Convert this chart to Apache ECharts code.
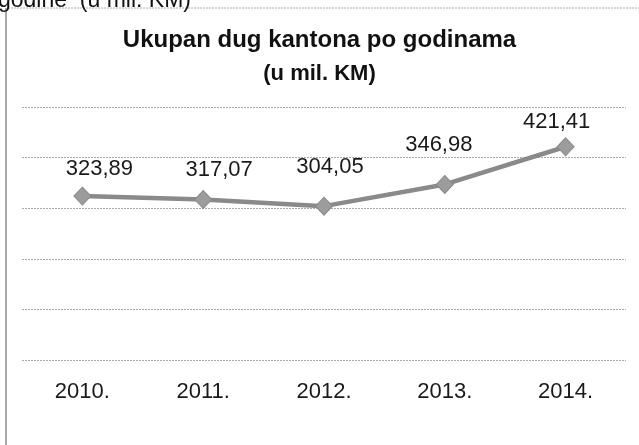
<!DOCTYPE html>
<html>
<head>
<meta charset="utf-8">
<script src="https://cdn.jsdelivr.net/npm/echarts@6/dist/echarts.min.js"></script>
<style>
  html, body { margin: 0; padding: 0; background: #fff; }
  #chart { width: 639px; height: 445px; }
</style>
</head>
<body>
<div id="chart"></div>
<script>
const years = ['2010.', '2011.', '2012.', '2013.', '2014.']
const debt = [323.89, 317.07, 304.05, 346.98, 421.41]
const yTicks = [0, 100, 200, 300, 400, 500]
// labels were moved by hand in the original, so nudge them a bit
const labelNudge = [[17, -27], [16, -30], [6, -39], [-6, -39], [-9, -25]]

const chart = echarts.init(document.getElementById('chart'))

const fmt = v => v.toFixed(2).replace('.', ',')

const option = {
  backgroundColor: '#fff',
  animation: false,
  title: {
    text: 'Ukupan dug kantona po godinama',
    subtext: '(u mil. KM)',
    left: 'center',
    top: 23,
    itemGap: 11,
    textStyle: {
      fontFamily: 'Liberation Sans',
      fontWeight: 'bold',
      fontSize: 24,
      color: '#111'
    },
    subtextStyle: {
      fontFamily: 'Liberation Sans',
      fontWeight: 'bold',
      fontSize: 22,
      color: '#111'
    }
  },
  graphic: [
    {
      type: 'line',
      shape: { x1: 8, y1: 8, x2: 639, y2: 8 },
      style: { stroke: '#b0b0b0', lineWidth: 1, lineDash: [2, 1] }
    },
    {
      type: 'line',
      shape: { x1: 6, y1: 8, x2: 6, y2: 445 },
      style: { stroke: '#a8a8a8', lineWidth: 2 }
    },
    {
      type: 'text',
      left: -2,
      top: -11,
      style: {
        text: 'godine  (u mil. KM)',
        font: '23px Liberation Sans',
        fill: '#111'
      }
    }
  ],
  grid: {
    left: 22,
    right: 13,
    top: 107,
    bottom: 85
  },
  xAxis: {
    type: 'category',
    data: years,
    boundaryGap: true,
    axisLine: { show: false },
    axisTick: { show: false },
    axisLabel: {
      margin: 21,
      fontFamily: 'Liberation Sans',
      fontSize: 22,
      color: '#1a1a1a'
    }
  },
  yAxis: {
    type: 'value',
    min: yTicks[0],
    max: yTicks[yTicks.length - 1],
    interval: yTicks[1] - yTicks[0],
    axisLabel: { show: false },
    axisLine: { show: false },
    axisTick: { show: false },
    splitLine: {
      show: true,
      lineStyle: { color: '#a9a9a9', width: 1, type: [2, 1] }
    }
  },
  series: [{
    type: 'line',
    data: debt.map((v, i) => ({
      value: v,
      label: { offset: labelNudge[i] }
    })),
    symbol: 'diamond',
    symbolSize: [17, 18],
    lineStyle: { color: '#8a8a8a', width: 4.5 },
    itemStyle: { color: '#9c9c9c', borderColor: '#8a8a8a', borderWidth: 1 },
    label: {
      show: true,
      position: 'inside',
      formatter: p => fmt(p.value),
      fontFamily: 'Liberation Sans',
      fontSize: 22,
      color: '#1a1a1a'
    }
  }]
}

chart.setOption(option)
</script>
</body>
</html>
